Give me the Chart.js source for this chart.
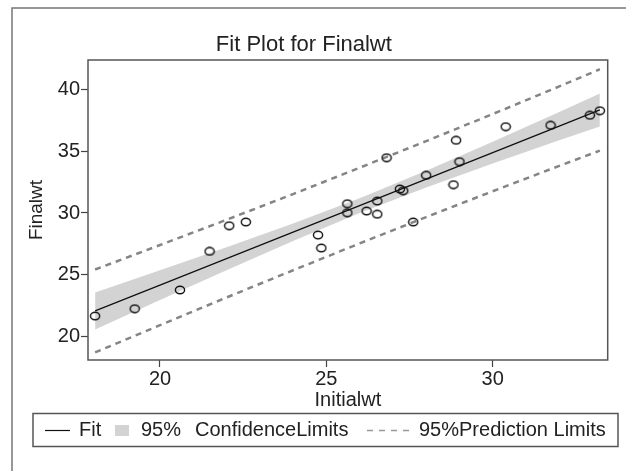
<!DOCTYPE html>
<html>
<head>
<meta charset="utf-8">
<script src="https://cdn.jsdelivr.net/npm/chart.js@4/dist/chart.umd.min.js"></script>
<style>
  body { margin: 0; background: #fff; }
</style>
</head>
<body>
<canvas id="myChart" width="626" height="471"></canvas>
<script>
// * data
const initialWt = [18.05, 19.24, 20.60, 21.49, 22.08, 22.58, 24.75, 24.85, 25.63, 25.63, 26.21, 26.53, 26.53,
  26.81, 27.21, 27.31, 27.61, 28.00, 28.82, 28.90, 29.00, 30.39, 31.74, 32.92, 33.22];
const finalWt = [21.67, 22.26, 23.78, 26.90, 28.97, 29.27, 28.22, 27.17, 30.75, 30.02, 30.16, 30.97, 29.90,
  34.47, 31.94, 31.80, 29.27, 33.05, 32.29, 35.88, 34.15, 36.98, 37.09, 37.90, 38.27];

const bandX = [18.05, 20, 22, 24, 26, 28, 30, 32, 33.22];
const fitY = [22.08, 24.17, 26.31, 28.45, 30.60, 32.74, 34.88, 37.02, 38.33];
const confLower = [20.59, 22.96, 25.38, 27.74, 30.00, 32.07, 34.01, 35.88, 37.00];
const confUpper = [23.57, 25.38, 27.24, 29.16, 31.20, 33.41, 35.75, 38.16, 39.66];
const predLower = [18.73, 20.93, 23.17, 25.37, 27.54, 29.67, 31.76, 33.81, 35.04];
const predUpper = [25.43, 27.41, 29.45, 31.53, 33.66, 35.81, 38.00, 40.23, 41.62];

const xTicks = [20, 25, 30];
const yTicks = [20, 25, 30, 35, 40];

const FONT = "'Liberation Sans', Arial, sans-serif";
const TEXT = "#222";

function toXY(xs, ys) {
  return xs.map((x, i) => ({ x: x, y: ys[i] }));
}

// * open marker, a bit wider than tall like the original
const marker = document.createElement("canvas");
marker.width = 12;
marker.height = 10;
let mctx = marker.getContext("2d");
mctx.strokeStyle = "#111";
mctx.lineWidth = 1.4;
mctx.beginPath();
mctx.ellipse(6, 5, 4.6, 3.7, 0, 0, Math.PI * 2);
mctx.stroke();

// * frames + legend
const framePlugin = {
  id: "frames",
  beforeDraw(chart) {
    const ctx = chart.ctx;
    ctx.save();
    ctx.strokeStyle = "#777";
    ctx.lineWidth = 1.5;
    ctx.beginPath();
    ctx.moveTo(12, 471);
    ctx.lineTo(12, 8);
    ctx.lineTo(626, 8);
    ctx.stroke();
    ctx.restore();
  },
  afterDraw(chart) {
    const ctx = chart.ctx;
    const a = chart.chartArea;
    ctx.save();
    ctx.strokeStyle = "#555";
    ctx.lineWidth = 1.5;
    ctx.strokeRect(a.left, a.top, a.right - a.left, a.bottom - a.top);

    // legend box
    ctx.strokeRect(33, 413.5, 585, 33);
    ctx.strokeStyle = "#111";
    ctx.lineWidth = 1.2;
    ctx.beginPath();
    ctx.moveTo(45, 430.5);
    ctx.lineTo(70, 430.5);
    ctx.stroke();
    ctx.fillStyle = "#d3d3d3";
    ctx.fillRect(115, 425, 14, 11);
    ctx.strokeStyle = "#999";
    ctx.lineWidth = 1.5;
    ctx.setLineDash([6, 6]);
    ctx.beginPath();
    ctx.moveTo(367, 430.5);
    ctx.lineTo(411, 430.5);
    ctx.stroke();
    ctx.setLineDash([]);

    ctx.fillStyle = TEXT;
    ctx.font = "20px " + FONT;
    ctx.textBaseline = "alphabetic";
    ctx.fillText("Fit", 79, 436);
    ctx.fillText("95%", 141, 436);
    ctx.fillText("ConfidenceLimits", 195, 436);
    ctx.fillText("95%Prediction Limits", 419, 436);
    ctx.restore();
  },
};

const data = {
  datasets: [
    {
      label: "Observed",
      data: toXY(initialWt, finalWt),
      pointStyle: marker,
      pointRadius: 5,
      showLine: false,
    },
    {
      label: "Fit",
      data: toXY(bandX, fitY),
      showLine: true,
      borderColor: "#111",
      borderWidth: 1.3,
      pointRadius: 0,
    },
    {
      label: "Upper prediction",
      data: toXY(bandX, predUpper),
      showLine: true,
      borderColor: "#858585",
      borderWidth: 2.5,
      borderDash: [6, 5],
      pointRadius: 0,
    },
    {
      label: "Lower prediction",
      data: toXY(bandX, predLower),
      showLine: true,
      borderColor: "#858585",
      borderWidth: 2.5,
      borderDash: [6, 5],
      pointRadius: 0,
    },
    {
      label: "Upper confidence",
      data: toXY(bandX, confUpper),
      showLine: true,
      borderWidth: 0,
      borderColor: "rgba(0,0,0,0)",
      backgroundColor: "#d3d3d3",
      fill: "+1",
      pointRadius: 0,
    },
    {
      label: "Lower confidence",
      data: toXY(bandX, confLower),
      showLine: true,
      borderWidth: 0,
      borderColor: "rgba(0,0,0,0)",
      pointRadius: 0,
    },
  ],
};

let config = {
  type: "scatter",
  data: data,
  plugins: [framePlugin],
  options: {
    responsive: false,
    animation: false,
    devicePixelRatio: 1,
    layout: { padding: { left: 0, right: 18.3, top: 0, bottom: 59 } },
    plugins: {
      legend: { display: false },
      tooltip: { enabled: false },
      title: {
        display: true,
        text: "Fit Plot for Finalwt",
        color: TEXT,
        font: { family: FONT, size: 22, weight: "normal" },
        padding: { top: 32, bottom: 1.6 },
      },
    },
    scales: {
      x: {
        type: "linear",
        min: 17.836,
        max: 33.456,
        afterBuildTicks: (s) => { s.ticks = xTicks.map((v) => ({ value: v })); },
        afterFit: (s) => { s.height = 52; },
        grid: { drawOnChartArea: false, tickLength: 7, tickColor: "#444", tickWidth: 1.2 },
        border: { display: false },
        ticks: { color: TEXT, padding: 0, maxRotation: 0, font: { family: FONT, size: 20 } },
        title: {
          display: true,
          text: "Initialwt",
          color: TEXT,
          padding: { top: 0, bottom: 0 },
          font: { family: FONT, size: 20 },
        },
      },
      y: {
        type: "linear",
        min: 18.116,
        max: 42.369,
        afterBuildTicks: (s) => { s.ticks = yTicks.map((v) => ({ value: v })); },
        afterFit: (s) => { s.width = 88; },
        grid: { drawOnChartArea: false, tickLength: 7, tickColor: "#444", tickWidth: 1.2 },
        border: { display: false },
        ticks: { color: TEXT, padding: 1, font: { family: FONT, size: 20 } },
        title: {
          display: true,
          text: "Finalwt",
          color: TEXT,
          padding: { top: 25.6, bottom: 0 },
          font: { family: FONT, size: 19 },
        },
      },
    },
  },
};

let chart = new Chart("myChart", config);
</script>
</body>
</html>
